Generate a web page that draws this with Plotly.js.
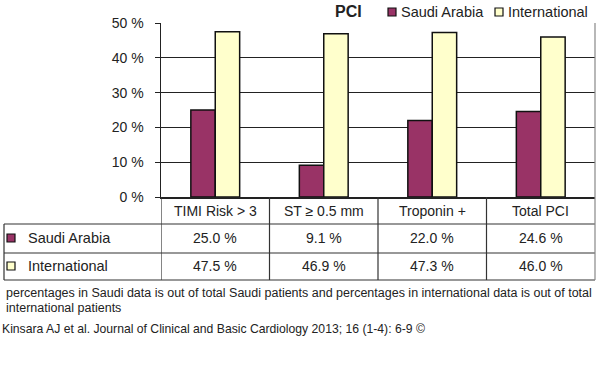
<!DOCTYPE html>
<html>
<head>
<meta charset="utf-8">
<script src="https://cdn.plot.ly/plotly-3.0.1.min.js"></script>
<style>html,body{margin:0;padding:0;background:#fff;}#chart{width:600px;height:378px;}</style>
</head>
<body>
<div id="chart"></div>
<script>
const categories = ["TIMI Risk > 3", "ST \u2265 0.5 mm", "Troponin +", "Total PCI"];
const saudiValues = [25.0, 9.1, 22.0, 24.6];
const intlValues = [47.5, 46.9, 47.3, 46.0];
const seriesNames = ["Saudi Arabia", "International"];
const seriesColors = ["#993366", "#FFFFCC"];
const yTicks = [0, 10, 20, 30, 40, 50];
const chartTitle = "PCI";
const footnote1 = "percentages in Saudi data is out of total Saudi patients and percentages in international data is out of total";
const footnote2 = "international patients";
const citation = "Kinsara AJ et al. Journal of Clinical and Basic Cardiology 2013; 16 (1-4): 6-9 \u00A9";

const W = 600, H = 378;
const L = 161, R = 595, T = 23, B = 197;
const X = px => (px - L) / (R - L);
const Y = py => (B - py) / (B - T);
const FONT = "Arial, 'Liberation Sans', sans-serif";
const TXT = "#222";

const traces = [
  {type: "bar", x: categories, y: saudiValues, name: seriesNames[0],
   marker: {color: seriesColors[0], line: {color: "#111", width: 1.5}}},
  {type: "bar", x: categories, y: intlValues, name: seriesNames[1],
   marker: {color: seriesColors[1], line: {color: "#111", width: 1.5}}}
];

const shapes = [];
const annotations = [];
const line = (x0, y0, x1, y1, xref, color, w) => shapes.push({type: "line", xref: xref || "paper", yref: "paper",
  x0, y0, x1, y1, line: {color: color || "#333", width: w || 1.2}});

// table horizontal lines
[224, 253, 280].forEach(py => line(X(4), Y(py), X(R), Y(py)));
// left border of table
line(X(4), Y(224), X(4), Y(280));
// column dividers at category boundaries
for (let i = 0; i < categories.length; i++) {
  line(i - 0.5, Y(B), i - 0.5, Y(280), "x");
}
// right border
shapes.push({type: "line", xref: "paper", yref: "paper", x0: 1, x1: 1, y0: Y(T), y1: Y(280), line: {color: "#888", width: 1.2}});

// table texts
categories.forEach((c, i) => {
  annotations.push({xref: "x", yref: "paper", x: i, y: Y(211), text: c, showarrow: false,
    font: {family: FONT, size: 14, color: TXT}, xanchor: "center", yanchor: "middle"});
  annotations.push({xref: "x", yref: "paper", x: i, y: Y(238), text: saudiValues[i].toFixed(1) + " %", showarrow: false,
    font: {family: FONT, size: 14, color: TXT}, xanchor: "center", yanchor: "middle"});
  annotations.push({xref: "x", yref: "paper", x: i, y: Y(266), text: intlValues[i].toFixed(1) + " %", showarrow: false,
    font: {family: FONT, size: 14, color: TXT}, xanchor: "center", yanchor: "middle"});
});
// row labels with swatches
[[238, 0], [266, 1]].forEach(([py, s]) => {
  shapes.push({type: "rect", xref: "paper", yref: "paper", x0: X(7), x1: X(15), y0: Y(py - 4), y1: Y(py + 4),
    fillcolor: seriesColors[s], line: {color: "#111", width: 1.2}});
  annotations.push({xref: "paper", yref: "paper", x: X(26), y: Y(py), text: seriesNames[s], showarrow: false,
    font: {family: FONT, size: 14.5, color: TXT}, xanchor: "left", yanchor: "middle"});
});

// top legend
annotations.push({xref: "paper", yref: "paper", x: X(348), y: Y(12), text: "<b>" + chartTitle + "</b>", showarrow: false,
  font: {family: FONT, size: 16, color: TXT}, xanchor: "center", yanchor: "middle"});
[[388, 0], [495, 1]].forEach(([px, s]) => {
  shapes.push({type: "rect", xref: "paper", yref: "paper", x0: X(px), x1: X(px + 8), y0: Y(8), y1: Y(16),
    fillcolor: seriesColors[s], line: {color: "#111", width: 1.2}});
  annotations.push({xref: "paper", yref: "paper", x: X(px + 11), y: Y(12), text: seriesNames[s], showarrow: false,
    font: {family: FONT, size: 14.5, color: TXT}, xanchor: "left", yanchor: "middle"});
});

// footnotes
[[footnote1, 293], [footnote2, 308]].forEach(([t, py]) => {
  annotations.push({xref: "paper", yref: "paper", x: X(4), y: Y(py), text: t, showarrow: false,
    font: {family: FONT, size: 12.5, color: TXT}, xanchor: "left", yanchor: "middle"});
});
annotations.push({xref: "paper", yref: "paper", x: X(0), y: Y(329), text: citation, showarrow: false,
  font: {family: FONT, size: 12.2, color: TXT}, xanchor: "left", yanchor: "middle"});

const layout = {
  width: W, height: H,
  margin: {l: L, r: W - R, t: T, b: H - B, pad: 0},
  paper_bgcolor: "#fff", plot_bgcolor: "#fff",
  showlegend: false,
  barmode: "group", bargap: 0.55, bargroupgap: 0,
  xaxis: {type: "category", range: [-0.5, categories.length - 0.5], showticklabels: false, ticks: "",
    showgrid: false, showline: true, linecolor: "#222", linewidth: 1.5, zeroline: false, fixedrange: true},
  yaxis: {range: [0, 50], tickvals: yTicks, ticktext: yTicks.map(v => v + " %"),
    tickfont: {family: FONT, size: 14, color: TXT}, ticks: "outside", ticklen: 5, tickcolor: "#222",
    showline: true, linecolor: "#222", linewidth: 1.5, showgrid: true, gridcolor: "#222", gridwidth: 1.2,
    zeroline: false, ticklabelstandoff: 8, fixedrange: true},
  shapes, annotations
};

Plotly.newPlot("chart", traces, layout, {displayModeBar: false, staticPlot: true});
</script>
</body>
</html>
